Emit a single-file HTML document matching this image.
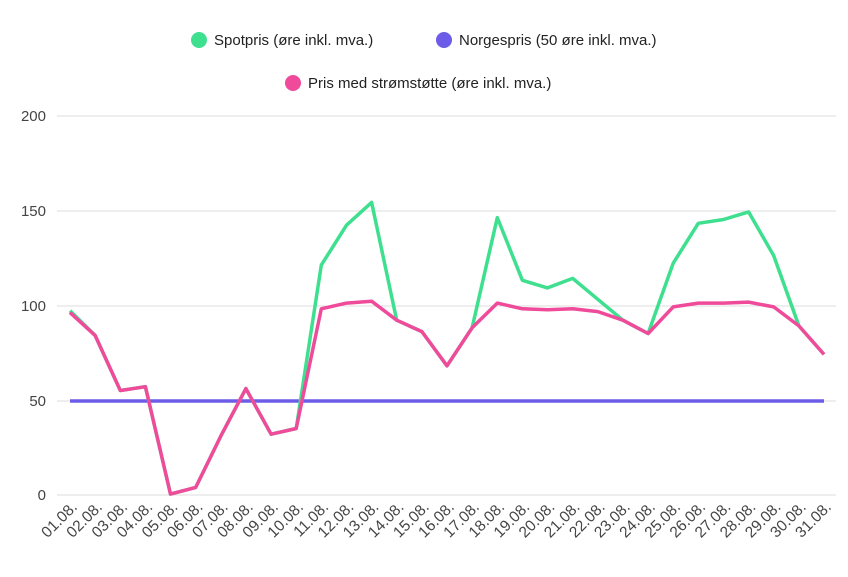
<!DOCTYPE html>
<html><head><meta charset="utf-8"><style>
body{margin:0;background:#fff;}
svg{display:block;font-family:"Liberation Sans",sans-serif;}
</style></head><body>
<svg width="848" height="577" viewBox="0 0 848 577">
<g font-size="15" fill="#222">
<circle cx="199" cy="40" r="8" fill="#3ee08f"/><text x="214" y="45">Spotpris (øre inkl. mva.)</text>
<circle cx="444" cy="40" r="8" fill="#6c5ce7"/><text x="459" y="45">Norgespris (50 øre inkl. mva.)</text>
<circle cx="293" cy="83" r="8" fill="#ef4b9a"/><text x="308" y="88">Pris med strømstøtte (øre inkl. mva.)</text>
</g>
<g stroke="#ddd" stroke-width="1">
<line x1="57" x2="836" y1="116" y2="116"/><line x1="57" x2="836" y1="211" y2="211"/>
<line x1="57" x2="836" y1="306" y2="306"/><line x1="57" x2="836" y1="401" y2="401"/>
<line x1="57" x2="836" y1="495" y2="495"/>
</g>
<g font-size="15" fill="#444" text-anchor="end">
<text x="46" y="121">200</text><text x="46" y="216">150</text><text x="46" y="311">100</text><text x="46" y="406">50</text><text x="46" y="500">0</text>
</g>
<g id="xl" font-size="15.5" fill="#444" text-anchor="end"></g>
<line x1="70" x2="824" y1="401" y2="401" stroke="#6c5ce7" stroke-width="3.5"/>
<polyline id="g" fill="none" stroke="#3ee08f" stroke-width="3.5" stroke-linejoin="round"/>
<polyline id="p" fill="none" stroke="#ef4b9a" stroke-width="3.5" stroke-linejoin="round"/>
</svg>
<script>
var P=[96,84,55,57,0.5,4,31,56,32,35,98,101,102,92,86,68,88,101,98,97.5,98,96.5,92,85,99,101,101,101.5,99,89,74];
var G=[97,84,55,57,0.5,4,31,56,32,35,121,142,154,92,86,68,88,146,113,109,114,103,92,85,122,143,145,149,126,89,74];
function pts(a){return a.map(function(v,i){return (70+i*25.133).toFixed(1)+","+(495-v*1.9).toFixed(1)}).join(" ")}
document.getElementById("g").setAttribute("points",pts(G));
document.getElementById("p").setAttribute("points",pts(P));
var xl=document.getElementById("xl"),s="";
for(var i=0;i<31;i++){var x=70+i*25.133+8,y=508;var d=(i+1<10?"0":"")+(i+1)+".08.";
s+='<text transform="translate('+x.toFixed(1)+','+y+') rotate(-45)">'+d+'</text>';}
xl.innerHTML=s;
</script>
</body></html>
